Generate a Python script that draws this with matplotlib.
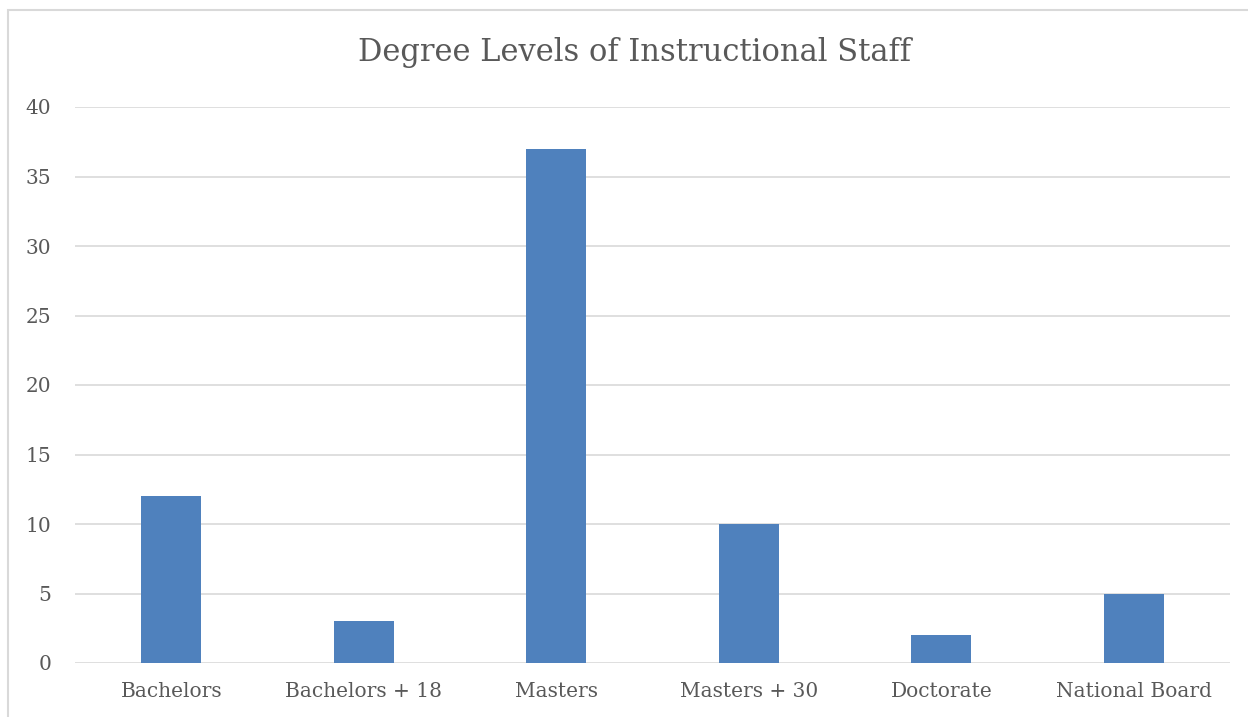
import matplotlib
matplotlib.use("Agg")
import matplotlib.pyplot as plt
from matplotlib.patches import Rectangle

categories = ["Bachelors", "Bachelors + 18", "Masters", "Masters + 30", "Doctorate", "National Board"]
counts = [12, 3, 37, 10, 2, 5]
yticks = [0, 5, 10, 15, 20, 25, 30, 35, 40]

TXT = "#595959"
plt.rcParams["font.family"] = ["DejaVu Serif"]

W, H = 1248, 717
fig = plt.figure(figsize=(W / 100, H / 100), dpi=100)
# chart-area border, cut off by the right and bottom edges like the original
fig.patches.append(Rectangle((8 / W, -0.2), 1.2, 1.2 - 10 / H, transform=fig.transFigure,
                             fill=False, edgecolor="#d9d9d9", linewidth=1.5))

ax = fig.add_axes([75 / W, (H - 663) / H, (1230 - 75) / W, (663 - 107) / H])
x = range(len(categories))
ax.bar(x, counts, width=0.31, color="#4f81bd", zorder=3)
ax.set_xlim(-0.5, len(categories) - 0.5)
ax.set_ylim(0, 40)
ax.set_yticks(yticks)
ax.set_xticks(list(x))
ax.set_xticklabels(categories)
ax.grid(axis="y", color="#d9d9d9", linewidth=1.2, zorder=0)
for s in ax.spines.values():
    s.set_visible(False)
ax.tick_params(length=0, colors=TXT, labelsize=14.5)
ax.tick_params(axis="y", pad=17)
ax.tick_params(axis="x", pad=14)

fig.text(635 / W, 1 - 53 / H, "Degree Levels of Instructional Staff", ha="center", va="center",
         fontsize=22, color=TXT)

fig.savefig("out.png", dpi=100)
